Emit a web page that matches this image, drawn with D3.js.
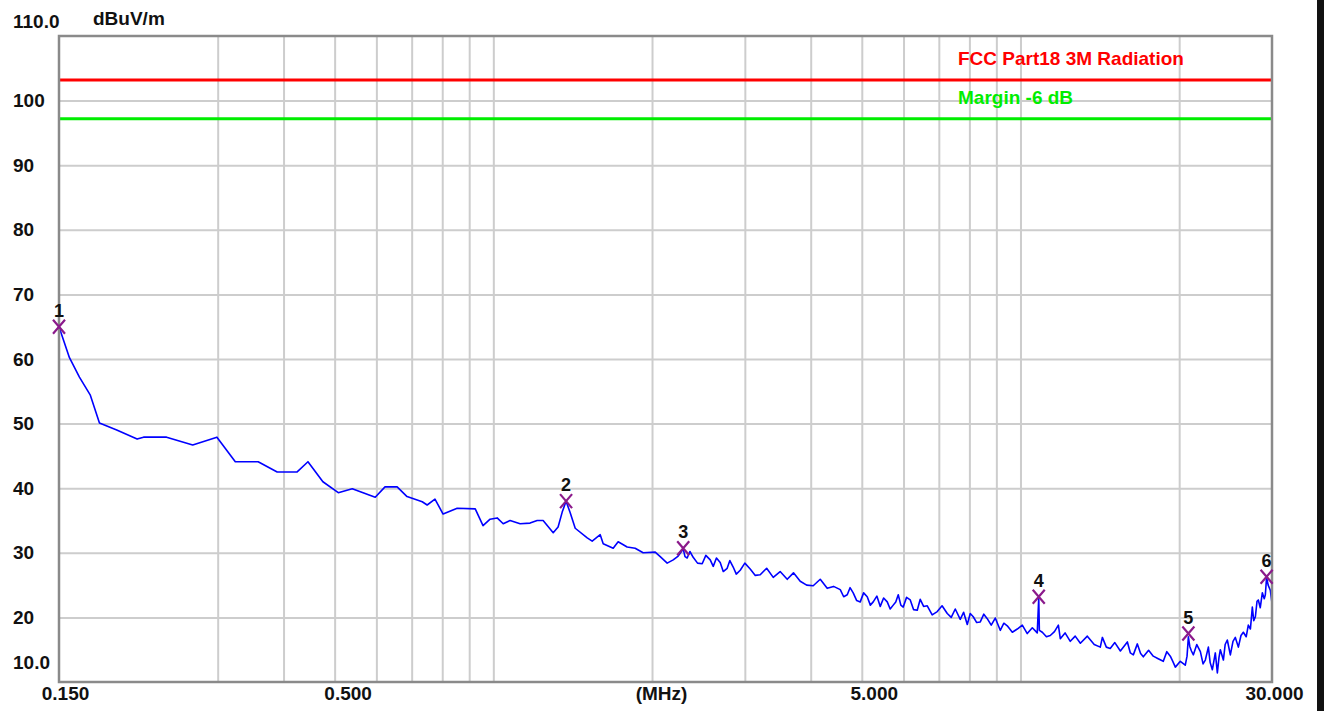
<!DOCTYPE html>
<html>
<head>
<meta charset="utf-8">
<script src="https://cdn.jsdelivr.net/npm/d3@7"></script>
<style>
  body { margin: 0; background: #fff; }
  svg text { font-family: "Liberation Sans", Arial, sans-serif; font-weight: bold; }
</style>
</head>
<body>
<div id="chart"></div>
<script>
// emission scan, 0.15 - 30 MHz

// ---- data ----
const freqMHz = [
  0.150, 0.157, 0.164, 0.172, 0.179, 0.193, 0.211, 0.217, 0.240, 0.269,
  0.299, 0.324, 0.358, 0.389, 0.424, 0.445, 0.475, 0.508, 0.540, 0.597,
  0.623, 0.657, 0.686, 0.733, 0.749, 0.775, 0.803, 0.854, 0.924, 0.956,
  0.986, 1.017, 1.044, 1.076, 1.124, 1.174, 1.211, 1.243, 1.299, 1.327,
  1.351, 1.374, 1.399, 1.430, 1.507, 1.540, 1.595, 1.616, 1.688, 1.725,
  1.794, 1.858, 1.924, 2.028, 2.073, 2.137, 2.194, 2.242,
  2.292, 2.31, 2.332, 2.36, 2.394, 2.44, 2.490, 2.53, 2.579, 2.613,
  2.65, 2.694, 2.73, 2.777, 2.81, 2.851, 2.89, 2.940, 3.00, 3.071,
  3.14, 3.208, 3.30, 3.396, 3.50, 3.610, 3.71, 3.821, 3.93, 4.044,
  4.17, 4.299, 4.42, 4.551, 4.62, 4.692, 4.75, 4.816, 4.89, 4.966,
  5.04, 5.120, 5.19, 5.256, 5.34, 5.420, 5.50, 5.588, 5.66, 5.736,
  5.80, 5.863, 5.93, 5.992, 6.08, 6.179, 6.27, 6.370, 6.454, 6.55,
  6.655, 6.80, 6.952, 7.10, 7.263, 7.39, 7.521, 7.687, 7.80, 7.926,
  8.03, 8.136, 8.26, 8.389, 8.52, 8.649, 8.80, 8.957, 9.155, 9.30,
  9.439, 9.65, 9.861, 10.08, 10.30, 10.53, 10.76, 10.83, 10.86, 11.00,
  11.20, 11.39, 11.60, 11.80, 11.90, 12.15, 12.43, 12.70, 12.99, 13.39,
  13.80, 14.17, 14.30, 14.55, 14.80, 15.10, 15.47, 15.95, 16.16, 16.37,
  16.66, 16.90, 17.10, 17.50, 17.86, 18.25, 18.66, 18.95, 19.24, 19.45,
  19.67, 20.10, 20.54, 20.70, 20.82, 20.95, 21.10, 21.28, 21.60, 21.94,
  22.20, 22.42, 22.72, 22.90, 23.12, 23.42, 23.63, 23.80, 23.94, 24.26,
  24.45, 24.68, 25.01, 25.30, 25.56, 25.90, 26.20, 26.47, 26.80, 27.05,
  27.30, 27.53, 27.70, 27.90, 28.10, 28.26, 28.50, 28.76, 29.00, 29.14,
  29.30, 29.50, 29.78, 30.00
];
const levelDb = [
  65.0, 60.2, 57.2, 54.4, 50.1, 49.0, 47.6, 47.9, 47.9, 46.7,
  47.9, 44.1, 44.1, 42.5, 42.5, 44.1, 41.0, 39.3, 39.9, 38.6,
  40.2, 40.2, 38.7, 37.9, 37.4, 38.3, 36.0, 36.9, 36.8, 34.2,
  35.2, 35.4, 34.5, 35.0, 34.5, 34.6, 35.0, 35.0, 33.1, 34.0,
  36.3, 38.0, 36.2, 33.8, 32.3, 31.8, 32.8, 31.4, 30.7, 31.7,
  30.9, 30.7, 30.0, 30.1, 29.4, 28.4, 28.9, 29.5,
  30.6, 29.4, 29.2, 30.2, 29.3, 28.4, 28.3, 29.6, 28.9, 27.9,
  29.2, 28.5, 27.1, 27.6, 28.8, 27.8, 26.7, 27.3, 28.4, 27.5,
  26.5, 26.6, 27.6, 26.2, 27.1, 25.9, 26.9, 25.6, 25.0, 24.9,
  25.9, 24.5, 24.8, 24.3, 23.2, 23.5, 24.6, 23.8, 22.6, 22.4,
  23.8, 23.2, 21.9, 22.4, 23.3, 21.7, 23.0, 22.4, 21.3, 21.9,
  22.4, 23.5, 21.9, 21.6, 23.1, 22.7, 21.2, 21.1, 22.8, 21.7,
  21.8, 20.4, 20.9, 21.8, 20.6, 20.0, 21.3, 19.7, 20.8, 18.9,
  20.6, 20.1, 19.2, 19.3, 20.5, 19.8, 18.8, 19.9, 18.0, 19.1,
  18.7, 17.7, 18.2, 18.8, 17.5, 18.4, 17.6, 23.0, 18.0, 17.7,
  17.0, 17.2, 17.8, 18.8, 16.7, 17.6, 16.3, 17.1, 16.0, 17.1,
  15.8, 15.4, 16.9, 15.4, 15.2, 16.1, 14.8, 16.2, 14.5, 14.2,
  15.9, 14.4, 13.9, 14.9, 14.0, 13.6, 13.2, 14.7, 14.0, 13.2,
  12.3, 13.2, 12.6, 14.0, 17.0, 15.5, 14.8, 14.2, 15.8, 14.7,
  12.8, 13.4, 15.4, 13.0, 11.9, 14.5, 11.4, 13.8, 15.0, 13.4,
  15.8, 16.5, 14.2, 16.3, 16.9, 15.4, 17.2, 17.7, 17.0, 18.8,
  18.2, 21.6, 19.5, 20.1, 22.5, 22.7, 21.5, 23.8, 22.9, 23.5,
  26.2, 25.0, 24.2, 22.2
];

const markerFreq  = [0.150, 1.374, 2.292, 10.83, 20.82, 29.30];
const markerLevel = [65.0, 38.0, 30.7, 23.2, 17.5, 26.3];
const markerLabel = ["1", "2", "3", "4", "5", "6"];

const limitNames  = ["FCC Part18 3M Radiation", "Margin -6 dB"];
const limitLevels = [103.2, 97.2];

const gridFreqs  = [0.3, 0.4, 0.5, 0.6, 0.7, 0.8, 0.9, 1, 2, 3, 4, 5, 6, 7, 8, 9, 10, 20];
const gridLevels = [20, 30, 40, 50, 60, 70, 80, 90, 100];

const yTickValues = [110, 100, 90, 80, 70, 60, 50, 40, 30, 20, 10];
const yTickLabels = ["110.0", "100", "90", "80", "70", "60", "50", "40", "30", "20", "10.0"];
const xTickValues = [0.15, 0.5, 5, 30];
const xTickLabels = ["0.150", "0.500", "5.000", "30.000"];

// ---- layout / style ----
const width = 1324, height = 711;
const margin = { top: 36, right: 52, bottom: 29, left: 59 };
const innerWidth = width - margin.left - margin.right;
const innerHeight = height - margin.top - margin.bottom;
const limitColours = ["#ff0000", "#00ee00"];
const gridColour = "#cdcdcd";
const frameColour = "#8a8a8a";
const traceColour = "#0000ff";
const markerColour = "#8b1a8b";
const xLabelShift = [6, 13, 12, 2];   // the analyser software offsets its labels a little

const svg = d3.select("#chart")
  .append("svg")
  .attr("width", width)
  .attr("height", height)
  .style("background", "#fff");

const innerChart = svg.append("g")
  .attr("transform", `translate(${margin.left},${margin.top})`);

const xScale = d3.scaleLog().domain([0.15, 30]).range([0, innerWidth]);
const yScale = d3.scaleLinear().domain([10, 110]).range([innerHeight, 0]);

// ---- grid ----
innerChart.append("g")
  .attr("class", "grid-x")
  .attr("transform", `translate(0,${innerHeight})`)
  .call(d3.axisBottom(xScale).tickValues(gridFreqs).tickSize(-innerHeight).tickFormat(""))
  .call(g => g.select(".domain").remove())
  .call(g => g.selectAll("text").remove())
  .call(g => g.selectAll("line").attr("stroke", gridColour).attr("stroke-width", 2));

innerChart.append("g")
  .attr("class", "grid-y")
  .call(d3.axisLeft(yScale).tickValues(gridLevels).tickSize(-innerWidth).tickFormat(""))
  .call(g => g.select(".domain").remove())
  .call(g => g.selectAll("text").remove())
  .call(g => g.selectAll("line").attr("stroke", gridColour).attr("stroke-width", 2));

// ---- limit lines ----
innerChart.selectAll(".limit")
  .data(limitLevels)
  .join("line")
    .attr("class", "limit")
    .attr("x1", 0)
    .attr("x2", innerWidth)
    .attr("y1", d => yScale(d))
    .attr("y2", d => yScale(d))
    .attr("stroke", (d, i) => limitColours[i])
    .attr("stroke-width", 3);

innerChart.selectAll(".limit-label")
  .data(limitNames)
  .join("text")
    .attr("class", "limit-label")
    .text(d => d)
    .attr("x", 958 - margin.left)
    .attr("y", (d, i) => yScale(limitLevels[i]) - 15)
    .attr("fill", (d, i) => limitColours[i])
    .style("font-size", "19px");

// ---- trace ----
svg.append("clipPath").attr("id", "plot-clip")
  .append("rect").attr("width", innerWidth).attr("height", innerHeight);

const trace = freqMHz.map((f, i) => ({ f, v: levelDb[i] }));
const line = d3.line().x(d => xScale(d.f)).y(d => yScale(d.v));

innerChart.append("path")
  .datum(trace)
  .attr("d", line)
  .attr("clip-path", "url(#plot-clip)")
  .attr("fill", "none")
  .attr("stroke", traceColour)
  .attr("stroke-width", 1.6)
  .attr("stroke-linejoin", "round");

// ---- frame ----
innerChart.append("rect")
  .attr("width", innerWidth)
  .attr("height", innerHeight)
  .attr("fill", "none")
  .attr("stroke", frameColour)
  .attr("stroke-width", 2.5);

// ---- markers ----
const markers = innerChart.selectAll(".marker")
  .data(markerFreq)
  .join("g")
    .attr("class", "marker")
    .attr("transform", (d, i) => `translate(${xScale(d)},${yScale(markerLevel[i])})`);

markers.append("path")
  .attr("d", "M-6,-7L6,7M-6,7L6,-7")
  .attr("stroke", markerColour)
  .attr("stroke-width", 2.2)
  .attr("fill", "none");

markers.append("text")
  .text((d, i) => markerLabel[i])
  .attr("y", -10)
  .attr("text-anchor", "middle")
  .attr("fill", "#111")
  .style("font-size", "18px");

// ---- axes labels ----
innerChart.append("g")
  .call(d3.axisLeft(yScale).tickValues(yTickValues).tickSize(0).tickFormat((d, i) => yTickLabels[i]))
  .call(g => g.select(".domain").remove())
  .call(g => g.selectAll("text")
    .attr("x", 13 - margin.left)
    .attr("dy", null)
    .attr("y", d => d === 110 ? -9 : d === 10 ? -14 : 6)
    .attr("text-anchor", "start")
    .attr("fill", "#111")
    .style("font-size", "19px")
    .style("font-family", null));

innerChart.append("g")
  .attr("transform", `translate(0,${innerHeight})`)
  .call(d3.axisBottom(xScale).tickValues(xTickValues).tickSize(0).tickFormat((d, i) => xTickLabels[i]))
  .call(g => g.select(".domain").remove())
  .call(g => g.selectAll("text")
    .attr("dy", null)
    .attr("y", 18)
    .attr("x", (d, i) => xLabelShift[i])
    .attr("fill", "#111")
    .style("font-size", "19px")
    .style("font-family", null));

svg.append("text")
  .text("(MHz)")
  .attr("x", margin.left + innerWidth / 2 - 4)
  .attr("y", height - 11)
  .attr("text-anchor", "middle")
  .attr("fill", "#111")
  .style("font-size", "19px");

svg.append("text")
  .text("dBuV/m")
  .attr("x", 93)
  .attr("y", 25)
  .attr("fill", "#111")
  .style("font-size", "19px");

// dark edge at the right of the screenshot
svg.append("rect")
  .attr("x", 1317)
  .attr("y", 0)
  .attr("width", width - 1317)
  .attr("height", height)
  .attr("fill", "#111");
</script>
</body>
</html>
